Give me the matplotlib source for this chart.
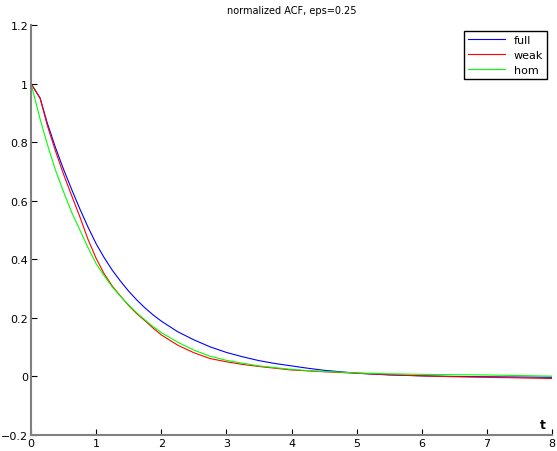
import numpy as np
import matplotlib
matplotlib.use('Agg')
import matplotlib.pyplot as plt

# values
t = [0, 0.14, 0.25, 0.375, 0.5, 0.625, 0.75, 0.875, 1.0, 1.125, 1.25, 1.375, 1.5,
     1.625, 1.75, 1.875, 2.0, 2.25, 2.5, 2.75, 3.0, 3.25, 3.5, 3.75, 4.0, 4.25, 4.5,
     5.0, 5.5, 6.0, 6.5, 7.0, 7.5, 8.0]
acf_full = [1.0, 0.95, 0.865, 0.782, 0.707, 0.638, 0.572, 0.51, 0.453, 0.405, 0.362, 0.325, 0.291,
            0.261, 0.234, 0.21, 0.189, 0.153, 0.125, 0.101, 0.082, 0.067, 0.054, 0.044, 0.036, 0.028, 0.021,
            0.011, 0.005, 0.002, 0.0, -0.001, -0.002, -0.003]
acf_weak = [1.0, 0.95, 0.857, 0.77, 0.69, 0.617, 0.545, 0.468, 0.403, 0.35, 0.308, 0.274, 0.242,
            0.214, 0.19, 0.165, 0.142, 0.107, 0.081, 0.061, 0.05, 0.041, 0.034, 0.028, 0.022, 0.019, 0.016,
            0.011, 0.006, 0.002, -0.001, -0.003, -0.005, -0.007]
acf_hom = [1.0, 0.878, 0.793, 0.705, 0.63, 0.56, 0.5, 0.44, 0.385, 0.343, 0.305, 0.273, 0.244,
           0.217, 0.193, 0.17, 0.15, 0.117, 0.09, 0.069, 0.055, 0.045, 0.036, 0.03, 0.024, 0.02, 0.017,
           0.012, 0.009, 0.007, 0.006, 0.005, 0.003, 0.001]

xticks = [0, 1, 2, 3, 4, 5, 6, 7, 8]
yticks = [-0.2, 0, 0.2, 0.4, 0.6, 0.8, 1, 1.2]
ytick_labels = ['\u22120.2', '0', '0.2', '0.4', '0.6', '0.8', '1', '1.2']

fig = plt.figure(figsize=(5.57, 4.52), dpi=100)
ax = fig.add_axes([0.0557, 0.0354, 0.9353, 0.907])

ax.plot(t, acf_full, color='#0000ff', lw=0.8, label='full')
ax.plot(t, acf_weak, color='#ff0000', lw=0.8, label='weak')
ax.plot(t, acf_hom, color='#00ff00', lw=0.8, label='hom')

ax.set_xlim(0, 8)
ax.set_ylim(-0.2, 1.2)
ax.set_xticks(xticks)
ax.set_xticklabels([str(v) for v in xticks])
ax.set_yticks(yticks)
ax.set_yticklabels(ytick_labels)

for s in ['top', 'right']:
    ax.spines[s].set_visible(False)
for s in ['left', 'bottom']:
    ax.spines[s].set_color('#808080')
    ax.spines[s].set_linewidth(1.5)
ax.tick_params(direction='in', length=4, width=0.8, color='black', labelsize=8, pad=2)

ax.text(7.86, -0.165, 't', fontsize=9, fontweight='bold', ha='center', va='center')
ax.set_title('normalized ACF, eps=0.25', fontsize=7, pad=9)

leg = ax.legend(loc='upper right', bbox_to_anchor=(0.99, 0.985), fontsize=8,
                fancybox=False, framealpha=1, edgecolor='black',
                handlelength=3.3, borderpad=0.35, labelspacing=0.45, borderaxespad=0)
leg.get_frame().set_linewidth(1.0)

fig.savefig('out.png', dpi=100)
